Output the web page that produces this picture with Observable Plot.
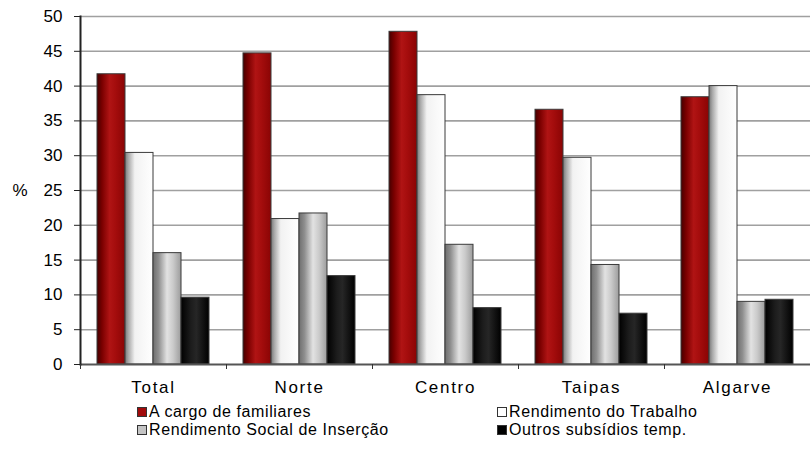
<!DOCTYPE html>
<html>
<head>
<meta charset="utf-8">
<script src="https://cdn.jsdelivr.net/npm/d3@7"></script>
<script src="https://cdn.jsdelivr.net/npm/@observablehq/plot@0.6"></script>
<style>
  body { margin: 0; background: #fff; font-family: "Liberation Sans", Arial, sans-serif; }
  #wrap { width: 810px; position: relative; }
  .legend { display: grid; grid-template-columns: 360px 300px; padding-left: 137px; font-size: 16px; letter-spacing: 0.6px; color: #000; margin-top: 5px; }
  .legend div { height: 18px; line-height: 18px; display: flex; align-items: center; white-space: nowrap; }
  .sw { width: 8px; height: 8px; border: 1px solid #333; margin-right: 2px; display: inline-block; }
  g[aria-label="fx-axis tick label"] text { letter-spacing: 1.7px; }
</style>
</head>
<body>
<div id="wrap"></div>
<script>
const categories = ["Total", "Norte", "Centro", "Taipas", "Algarve"];
const series = ["A cargo de familiares", "Rendimento do Trabalho", "Rendimento Social de Inserção", "Outros subsídios temp."];
const familiares = [41.7, 44.7, 47.8, 36.6, 38.4];
const trabalho   = [30.4, 20.9, 38.7, 29.7, 40.0];
const rsi        = [16.0, 21.7, 17.2, 14.3, 9.0];
const outros     = [9.6, 12.7, 8.1, 7.3, 9.3];
const yTicks = [0, 5, 10, 15, 20, 25, 30, 35, 40, 45, 50];
const yLabel = "%";

const seriesValues = [familiares, trabalho, rsi, outros];
const data = [];
categories.forEach((c, i) => seriesValues.forEach((vals, j) => data.push({cat: c, s: series[j], v: vals[i]})));

const gradIds = ["gRed", "gWhite", "gGray", "gBlack"];
const gradStops = {
  gRed:   [[0, "#450000"], [0.18, "#7a0000"], [0.45, "#b01414"], [0.65, "#a50d0d"], [1, "#8a0404"]],
  gWhite: [[0, "#777"], [0.12, "#a8a8a8"], [0.35, "#f2f2f2"], [1, "#ffffff"]],
  gGray:  [[0, "#6e6e6e"], [0.2, "#8f8f8f"], [0.5, "#e2e2e2"], [0.72, "#cacaca"], [1, "#9c9c9c"]],
  gBlack: [[0, "#000"], [0.35, "#1c1c1c"], [0.55, "#262626"], [1, "#000"]]
};
const legendColors = ["#a00a0a", "#ffffff", "#c4c4c4", "#000000"];

function defsMark() {
  const defs = d3.create("svg:defs");
  for (const id of gradIds) {
    const g = defs.append("linearGradient").attr("id", id).attr("x1", "0").attr("x2", "1").attr("y1", "0").attr("y2", "0");
    for (const [o, c] of gradStops[id]) g.append("stop").attr("offset", o).attr("stop-color", c);
  }
  return defs.node();
}

const chart = Plot.plot({
  width: 810,
  height: 398,
  marginTop: 16,
  marginBottom: 34,
  marginLeft: 80,
  marginRight: 0,
  style: {fontFamily: "'Liberation Sans', Arial, sans-serif", fontSize: "16px", color: "#000", background: "#fff"},
  fx: {domain: categories, padding: 0, label: null},
  x: {domain: series, paddingInner: 0, paddingOuter: 0.54, axis: null},
  y: {domain: [0, 50], ticks: yTicks, label: null},
  color: {domain: series, range: gradIds.map(id => `url(#${id})`)},
  marks: [
    defsMark,
    Plot.gridY(yTicks.slice(1), {stroke: "#a0a0a0", strokeOpacity: 1, strokeWidth: 1.6}),
    Plot.barY(data, {fx: "cat", x: "s", y: "v", fill: "s", stroke: "#3a3a3a", strokeWidth: 1}),
    Plot.ruleY([0], {stroke: "#555", strokeWidth: 2}),
    Plot.frame({anchor: "left", facetAnchor: "left", stroke: "#222", strokeWidth: 2}),
    Plot.axisY(yTicks, {tickSize: 6, tickPadding: 12, fontSize: 17, label: null, stroke: "#222"}),
    Plot.text([{cat: categories[0], v: 25}], {fx: "cat", y: "v", text: () => yLabel, frameAnchor: "left", dx: -68, textAnchor: "start", fontSize: 17}),
    Plot.axisFx({anchor: "bottom", tickSize: 0, tickPadding: 16, fontSize: 17, label: null}),
    Plot.axisFx({anchor: "bottom", tickSize: 5, tickFormat: () => "", dx: -73, stroke: "#333", label: null})
  ]
});

const wrap = document.getElementById("wrap");
wrap.appendChild(chart);

const legend = document.createElement("div");
legend.className = "legend";
for (let i = 0; i < series.length; i++) {
  const item = document.createElement("div");
  const sw = document.createElement("span");
  sw.className = "sw";
  sw.style.background = legendColors[i];
  item.appendChild(sw);
  item.appendChild(document.createTextNode(series[i]));
  legend.appendChild(item);
}
wrap.appendChild(legend);
</script>
</body>
</html>
